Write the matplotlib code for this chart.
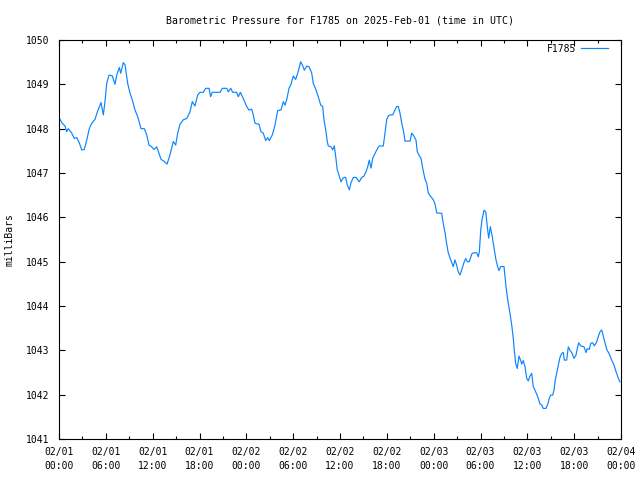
from datetime import datetime, timedelta
import matplotlib
matplotlib.use("Agg")
from matplotlib import pyplot as plt
import matplotlib.dates as mdates

# hours after 2025-02-01 00:00 UTC, pressure in millibars
hours = [
    0.00, 0.13, 0.42, 0.77, 0.99, 1.19, 1.63, 1.96, 2.27, 2.56, 2.91, 3.24, 3.55, 3.88,
    4.19, 4.61, 4.96, 5.38, 5.68, 5.89, 6.11, 6.41, 6.83, 7.17, 7.43, 7.73, 7.90, 8.24,
    8.46, 8.80, 9.10, 9.39, 9.74, 10.08, 10.51, 10.93, 11.24, 11.53, 11.88, 12.17, 12.52,
    12.81, 13.07, 13.49, 13.84, 14.22, 14.52, 14.64, 14.95, 15.21, 15.50, 15.92, 16.36,
    16.78, 17.08, 17.42, 17.77, 18.06, 18.49, 18.79, 19.22, 19.43, 19.64, 20.63, 20.92,
    21.48, 21.69, 22.00, 22.25, 22.77, 22.97, 23.23, 23.61, 24.05, 24.34, 24.69, 24.89,
    25.11, 25.62, 25.88, 26.17, 26.48, 26.74, 26.94, 27.33, 27.67, 28.02, 28.44, 28.74,
    28.95, 29.17, 29.47, 29.72, 30.02, 30.32, 30.58, 30.75, 30.96, 31.17, 31.43, 31.73,
    32.02, 32.37, 32.58, 32.89, 33.22, 33.53, 33.78, 33.95, 34.21, 34.37, 34.50, 34.85,
    35.06, 35.27, 35.45, 35.65, 35.91, 36.13, 36.29, 36.51, 36.73, 36.93, 37.19, 37.41,
    37.70, 38.05, 38.47, 38.78, 39.07, 39.33, 39.55, 39.75, 39.97, 40.19, 40.48, 40.83,
    41.03, 41.55, 41.76, 41.98, 42.19, 42.40, 42.75, 43.05, 43.26, 43.47, 43.69, 43.90,
    44.11, 44.33, 44.97, 45.19, 45.48, 45.74, 45.90, 46.16, 46.38, 46.59, 46.89, 47.11,
    47.31, 47.62, 47.95, 48.17, 48.39, 49.03, 49.23, 49.45, 49.67, 49.87, 50.18, 50.44,
    50.51, 50.73, 50.95, 51.15, 51.37, 51.59, 51.88, 52.10, 52.31, 52.56, 52.87, 53.08,
    53.51, 53.72, 53.85, 54.03, 54.19, 54.45, 54.67, 54.87, 55.05, 55.26, 55.47, 55.64,
    55.82, 55.98, 56.20, 56.37, 56.59, 57.01, 57.27, 57.43, 57.61, 57.78, 58.00, 58.20,
    58.33, 58.51, 58.71, 58.93, 59.15, 59.28, 59.48, 59.70, 59.92, 60.12, 60.34, 60.56,
    60.76, 60.98, 61.20, 61.40, 61.62, 61.84, 62.04, 62.39, 62.61, 62.81, 62.99, 63.25,
    63.41, 63.58, 63.84, 64.02, 64.18, 64.40, 64.61, 64.73, 65.04, 65.25, 65.46, 65.68,
    65.98, 66.23, 66.45, 66.58, 66.84, 67.26, 67.52, 67.68, 67.94, 68.12, 68.37, 68.58,
    68.89, 69.09, 69.31, 69.53, 69.73, 69.95, 70.17, 70.46, 70.81, 71.10, 71.36, 71.66,
    71.87,
]
pressure = [
    1048.23, 1048.21, 1048.12, 1048.06, 1047.93, 1048.00, 1047.90, 1047.78, 1047.80, 1047.70,
    1047.52, 1047.53, 1047.74, 1048.00, 1048.12, 1048.21, 1048.40, 1048.59, 1048.31, 1048.61,
    1049.02, 1049.21, 1049.19, 1049.00, 1049.23, 1049.38, 1049.25, 1049.49, 1049.44, 1049.02,
    1048.80, 1048.65, 1048.42, 1048.27, 1048.00, 1048.00, 1047.86, 1047.63, 1047.59, 1047.53,
    1047.59, 1047.44, 1047.31, 1047.26, 1047.20, 1047.41, 1047.63, 1047.71, 1047.63, 1047.90,
    1048.10, 1048.20, 1048.23, 1048.38, 1048.61, 1048.51, 1048.76, 1048.82, 1048.82, 1048.91,
    1048.91, 1048.72, 1048.82, 1048.82, 1048.91, 1048.91, 1048.83, 1048.91, 1048.82, 1048.82,
    1048.72, 1048.82, 1048.68, 1048.50, 1048.42, 1048.44, 1048.31, 1048.12, 1048.10, 1047.93,
    1047.90, 1047.73, 1047.80, 1047.73, 1047.86, 1048.08, 1048.41, 1048.42, 1048.61, 1048.53,
    1048.65, 1048.91, 1049.00, 1049.19, 1049.11, 1049.25, 1049.36, 1049.51, 1049.44, 1049.32,
    1049.41, 1049.40, 1049.26, 1049.02, 1048.89, 1048.72, 1048.53, 1048.50, 1048.20, 1047.93,
    1047.71, 1047.61, 1047.59, 1047.52, 1047.61, 1047.37, 1047.07, 1046.93, 1046.80, 1046.86,
    1046.90, 1046.90, 1046.73, 1046.62, 1046.78, 1046.90, 1046.90, 1046.80, 1046.90, 1046.93,
    1047.03, 1047.14, 1047.29, 1047.11, 1047.33, 1047.44, 1047.56, 1047.61, 1047.61, 1047.90,
    1048.20, 1048.29, 1048.31, 1048.31, 1048.42, 1048.50, 1048.50, 1048.35, 1048.13, 1047.97,
    1047.72, 1047.72, 1047.90, 1047.83, 1047.74, 1047.48, 1047.39, 1047.33, 1047.11, 1046.86,
    1046.77, 1046.55, 1046.47, 1046.40, 1046.30, 1046.10, 1046.09, 1045.86, 1045.66, 1045.40,
    1045.20, 1045.04, 1044.92, 1044.89, 1045.04, 1044.92, 1044.77, 1044.70, 1044.81, 1044.98,
    1045.07, 1045.00, 1045.00, 1045.17, 1045.20, 1045.20, 1045.11, 1045.22, 1045.71, 1045.94,
    1046.16, 1046.13, 1045.79, 1045.53, 1045.79, 1045.60, 1045.41, 1045.22, 1045.04, 1044.89,
    1044.80, 1044.89, 1044.89, 1044.44, 1044.21, 1044.02, 1043.83, 1043.57, 1043.27, 1043.00,
    1042.70, 1042.59, 1042.87, 1042.77, 1042.69, 1042.77, 1042.63, 1042.37, 1042.31, 1042.42,
    1042.48, 1042.18, 1042.10, 1042.01, 1041.92, 1041.79, 1041.77, 1041.69, 1041.69, 1041.78,
    1041.92, 1041.99, 1041.99, 1042.10, 1042.33, 1042.56, 1042.71, 1042.84, 1042.93, 1042.95,
    1042.78, 1042.78, 1043.08, 1043.00, 1042.95, 1042.82, 1042.89, 1043.08, 1043.17, 1043.10,
    1043.08, 1042.95, 1043.04, 1043.02, 1043.16, 1043.17, 1043.10, 1043.19, 1043.31, 1043.42,
    1043.46, 1043.32, 1043.16, 1043.02, 1042.93, 1042.78, 1042.67, 1042.52, 1042.37, 1042.29,
]
station = "F1785"
y_ticks = list(range(1041, 1051))

start = datetime(2025, 2, 1)
times = [start + timedelta(hours=h) for h in hours]

plt.rcParams['font.family'] = ['DejaVu Sans Mono']
plt.rcParams['font.size'] = 7

fig = plt.figure(figsize=(6.4, 4.8), dpi=100)
ax = fig.add_axes([59 / 640, 1 - 439 / 480, 562 / 640, 399 / 480])

ax.plot(times, pressure, color='#0a84ff', lw=0.85, label=station)

ax.set_xlim(start, start + timedelta(days=3))
ax.set_ylim(1041, 1050)
ax.set_yticks(y_ticks)

ax.xaxis.set_major_locator(mdates.HourLocator(byhour=[0, 6, 12, 18]))
ax.xaxis.set_minor_locator(mdates.HourLocator(byhour=range(0, 24, 3)))
ax.xaxis.set_major_formatter(mdates.DateFormatter('%m/%d\n%H:%M'))
for lab in ax.get_xticklabels():
    lab.set_linespacing(1.5)

ax.tick_params(which='both', direction='in', top=True, right=True, width=0.8)
ax.tick_params(which='major', length=4.5)
ax.tick_params(which='minor', length=2.5)
ax.tick_params(axis='x', pad=6)
ax.tick_params(axis='y', pad=7)
for sp in ax.spines.values():
    sp.set_linewidth(0.8)

ax.set_title(f'Barometric Pressure for {station} on 2025-Feb-01 (time in UTC)',
             fontsize=7.1, pad=12)
fig.text(10 / 640, 1 - 240 / 480, 'milliBars', rotation=90, ha='center', va='center')

ax.legend(loc='upper right', bbox_to_anchor=(1 - 7 / 562, 1 + 2 / 399), frameon=False,
          markerfirst=False, handlelength=2.8, handletextpad=0.5, borderaxespad=0.2)

fig.savefig('out.png', dpi=100)
